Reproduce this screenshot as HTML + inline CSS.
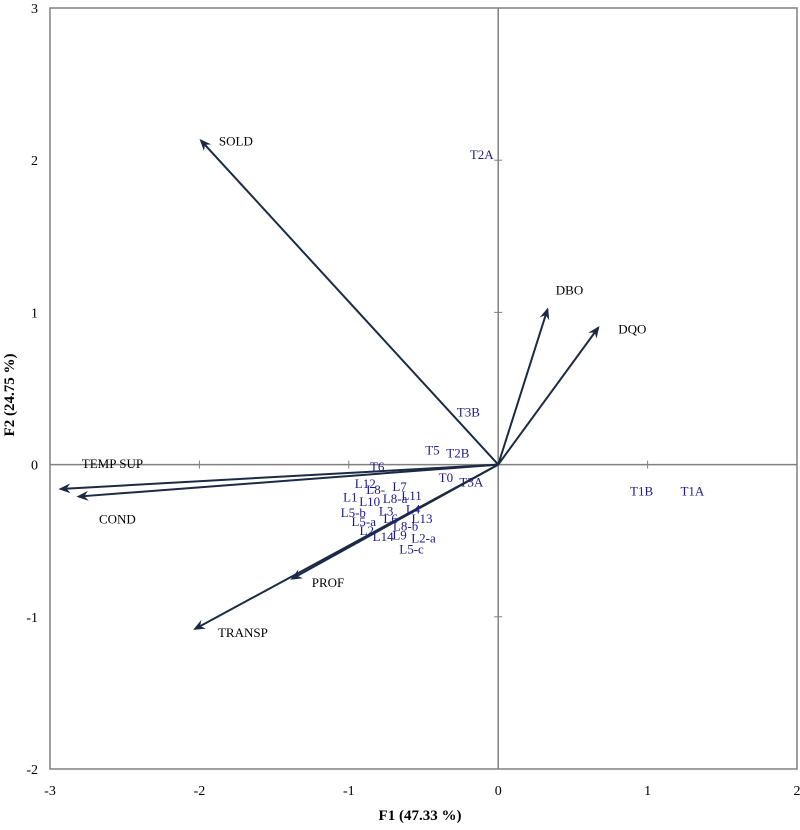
<!DOCTYPE html>
<html><head><meta charset="utf-8"><style>
body{margin:0;background:#fff}
svg text{font-family:"Liberation Serif",serif}
</style></head><body>
<svg id="c" width="800" height="825" xmlns="http://www.w3.org/2000/svg">
<defs><marker id="ah" markerWidth="12" markerHeight="10" refX="10" refY="5" orient="auto" markerUnits="userSpaceOnUse"><path d="M0,0 L12,5 L0,10 L4,5 z" fill="#1c2a44"/></marker></defs>
</svg>
<script>
const xTicks=[-3,-2,-1,0,1,2];
const yTicks=[-2,-1,0,1,2,3];
const varNames=["SOLD","DBO","DQO","TEMP SUP","COND","PROF","TRANSP"];
const varX=[-1.99,0.33,0.67,-2.93,-2.81,-1.38,-2.03];
const varY=[2.13,1.02,0.90,-0.16,-0.21,-0.75,-1.08];
const varLabelDx=[35,22,34,52,39,36,48];
const varLabelDy=[0,-20,1,-26,22,3,3];
const obsNames=["T2A","T3B","T5","T2B","T6","T0","T3A","T1B","T1A","L12","L8-","L7","L1","L10","L8-a","L11","L5-b","L3","L4","L5-a","L6","L13","L8-b","L2","L14","L9","L2-a","L5-c"];
const obsX=[-0.11,-0.20,-0.44,-0.27,-0.81,-0.35,-0.18,0.96,1.30,-0.89,-0.82,-0.66,-0.99,-0.86,-0.69,-0.58,-0.97,-0.75,-0.57,-0.90,-0.72,-0.51,-0.62,-0.88,-0.77,-0.66,-0.50,-0.58];
const obsY=[2.04,0.35,0.10,0.08,-0.01,-0.08,-0.11,-0.17,-0.17,-0.12,-0.16,-0.14,-0.21,-0.24,-0.22,-0.20,-0.31,-0.30,-0.29,-0.37,-0.35,-0.35,-0.40,-0.43,-0.47,-0.46,-0.48,-0.55];
const L=50,R=797,T=8,B=769,xmin=-3,xmax=2,ymin=-2,ymax=3;
const sx=v=>L+(v-xmin)/(xmax-xmin)*(R-L);
const sy=v=>B-(v-ymin)/(ymax-ymin)*(B-T);
const svg=document.getElementById('c');const NS="http://www.w3.org/2000/svg";
function mk(t,a,txt){const e=document.createElementNS(NS,t);for(const k in a)e.setAttribute(k,a[k]);if(txt!=null)e.textContent=txt;svg.appendChild(e);return e;}
let e=mk('rect',{x:L,y:T,width:R-L,height:B-T,fill:'none',stroke:'#808080','stroke-width':1.5});


e=mk('line',{x1:L,x2:R,y1:sy(0),y2:sy(0),stroke:'#808080','stroke-width':1.5});


e=mk('line',{x1:sx(0),x2:sx(0),y1:T,y2:B,stroke:'#808080','stroke-width':1.5});


xTicks.forEach(v=>{
 e=mk('line',{x1:sx(v),x2:sx(v),y1:sy(0)-4,y2:sy(0)+4,stroke:'#808080'});
 
 
 e=mk('text',{x:sx(v),y:B+26,'text-anchor':'middle','font-size':14},String(v));
 
 
});
yTicks.forEach(v=>{
 e=mk('line',{x1:sx(0)-4,x2:sx(0)+4,y1:sy(v),y2:sy(v),stroke:'#808080'});
 
 
 e=mk('text',{x:38,y:sy(v)+5,'text-anchor':'end','font-size':14},String(v));
 
 
});
varNames.forEach((n,i)=>{
 e=mk('line',{x1:sx(0),y1:sy(0),x2:sx(varX[i]),y2:sy(varY[i]),stroke:'#1c2a44','stroke-width':2,'marker-end':'url(#ah)'});
 
 
 e=mk('text',{x:sx(varX[i])+varLabelDx[i],y:sy(varY[i])+varLabelDy[i]+5,'text-anchor':'middle','font-size':13,fill:'#000'},n);
 
 
});
obsNames.forEach((n,i)=>{
 e=mk('text',{x:sx(obsX[i]),y:sy(obsY[i])+5,'text-anchor':'middle','font-size':13,fill:'#1a1a8c'},n);
 
 
});
e=mk('text',{x:420,y:820,'text-anchor':'middle','font-size':15,'font-weight':'bold'},'F1 (47.33 %)');


e=mk('text',{x:0,y:0,'text-anchor':'middle','font-size':15,'font-weight':'bold',transform:'translate(14,395) rotate(-90)'},'F2 (24.75 %)');


</script>
</body></html>
